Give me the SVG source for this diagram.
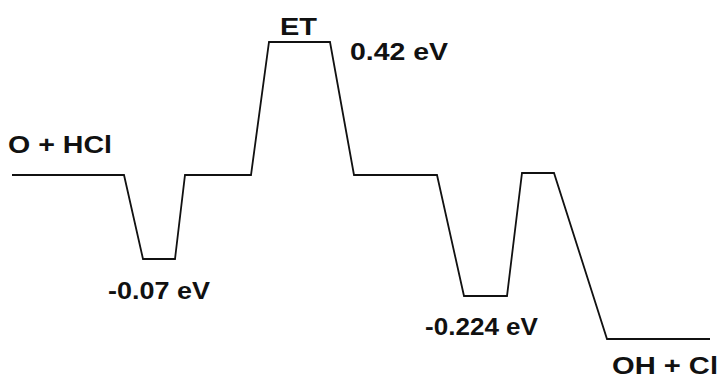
<svg xmlns="http://www.w3.org/2000/svg" width="721" height="380" viewBox="0 0 721 380">
<style>
.lbl{font-family:"Liberation Sans",Arial,sans-serif;font-size:24px;fill:#111;font-weight:bold}
.n{font-weight:bold;font-size:23px}
.line{fill:none;stroke:#111;stroke-width:1.8;stroke-linejoin:miter}
</style>
<rect width="721" height="380" fill="#fff"/>
<g id="connectors">
<polyline class="line" points="12,175 124,175 143,259 175,259 185,175 251,175 269,42 330,42 354,175 437,175 464,296 507,296 522,173 554,173 607,339 710,339"/>
</g>
<g id="reactants"><text class="lbl" x="8" y="153" textLength="104" lengthAdjust="spacingAndGlyphs">O + HCl</text></g>
<g id="well1"><text class="lbl n" x="108" y="299" textLength="102" lengthAdjust="spacingAndGlyphs">-0.07 eV</text></g>
<g id="ET"><text class="lbl" x="280" y="35" textLength="37" lengthAdjust="spacingAndGlyphs">ET</text></g>
<g id="barrier"><text class="lbl n" x="350" y="60" textLength="98" lengthAdjust="spacingAndGlyphs">0.42 eV</text></g>
<g id="well2"><text class="lbl n" x="425" y="335" textLength="113" lengthAdjust="spacingAndGlyphs">-0.224 eV</text></g>
<g id="products"><text class="lbl" x="612" y="374" font-size="23" textLength="106" lengthAdjust="spacingAndGlyphs">OH + Cl</text></g>
</svg>
